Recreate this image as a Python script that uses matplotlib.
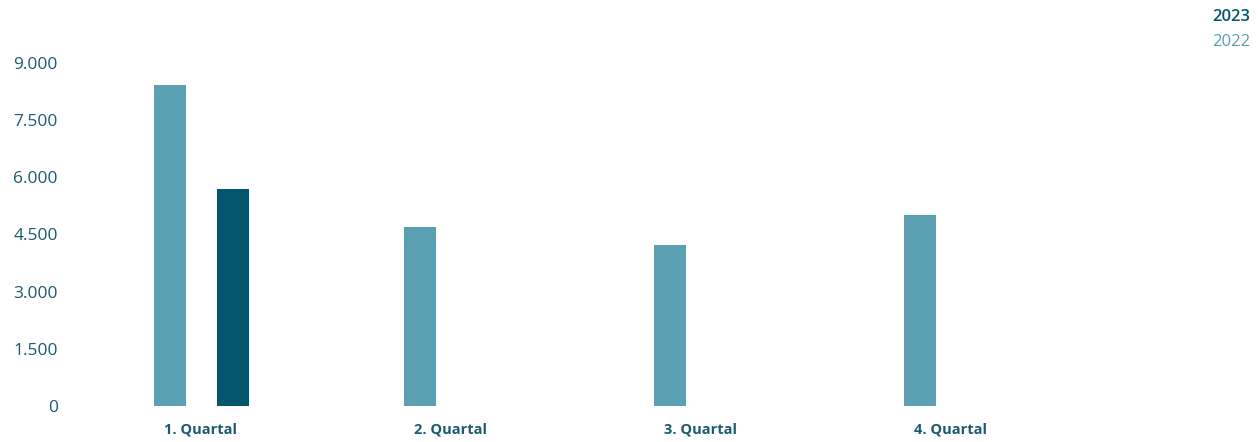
import matplotlib.pyplot as plt
import numpy as np

quarters = ["1. Quartal", "2. Quartal", "3. Quartal", "4. Quartal"]
values_2022 = [8430, 4700, 4220, 5020]
values_2023 = [5700, None, None, None]
y_ticks = [0, 1500, 3000, 4500, 6000, 7500, 9000]
y_labels = ["0", "1.500", "3.000", "4.500", "6.000", "7.500", "9.000"]

color_2022 = "#5a9fb2"
color_2023 = "#03566e"
text_color = "#1b5a70"

plt.rcParams["font.family"] = ["Open Sans", "DejaVu Sans"]

W, H = 1258, 442
fig = plt.figure(figsize=(W / 100, H / 100), dpi=100)
ax = fig.add_axes([76 / W, 36 / H, 1000 / W, 343 / H])

x = np.arange(len(quarters))
width = 0.128
off = 0.126
ax.bar(x - off, values_2022, width, color=color_2022)
v23 = [v if v is not None else 0 for v in values_2023]
ax.bar(x + off, v23, width, color=color_2023)

ax.set_xlim(-0.5, 3.5)
ax.set_ylim(0, 9000)
ax.set_yticks(y_ticks)
ax.set_yticklabels(y_labels, color=text_color, fontsize=12.5)
ax.set_xticks(x)
ax.set_xticklabels(quarters, color=text_color, fontsize=10.5, fontweight="bold")
ax.tick_params(axis="both", length=0)
ax.tick_params(axis="y", pad=13)
ax.tick_params(axis="x", pad=12)
for s in ax.spines.values():
    s.set_visible(False)

fig.text(1250 / W, 1 - 17 / H, "2023", ha="right", va="center",
         color=color_2023, fontsize=12, fontweight="semibold")
fig.text(1250 / W, 1 - 42 / H, "2022", ha="right", va="center",
         color=color_2022, fontsize=12)

fig.savefig("out.png", dpi=100)
